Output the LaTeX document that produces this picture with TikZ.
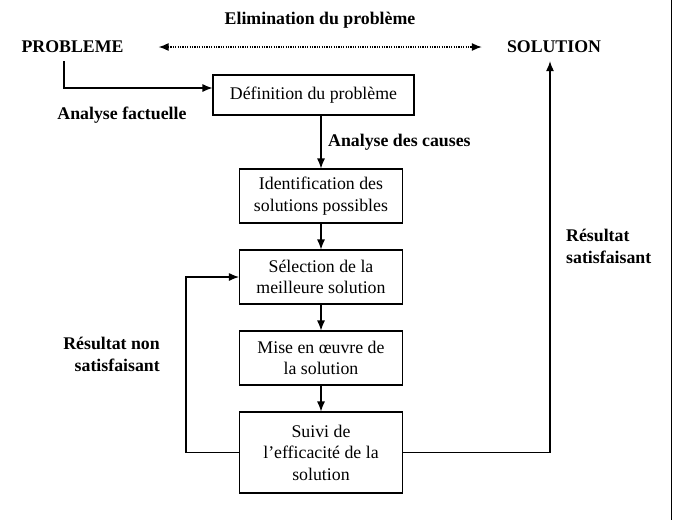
\documentclass[tikz,border=0pt]{standalone}
\usepackage{fontspec}
\setmainfont{Liberation Serif}
\usepackage{tikz}
\usetikzlibrary{arrows.meta,positioning}

\begin{document}
\begin{tikzpicture}[x=1pt,y=-1pt,
        every node/.style={font=\fontsize{17.8}{21.5}\selectfont},
        etape/.style={draw,line width=1.1pt,align=center,minimum width=163pt,minimum height=54pt,inner sep=2pt},
        titre/.style={font=\fontsize{17.8}{21.5}\selectfont\bfseries,inner sep=0pt},
        fleche/.style={line width=1.1pt,-{Latex[length=10pt,width=8pt]}}]
        \useasboundingbox (0,0) rectangle (674,520);
        \node[titre] (elim) at (320,20) {Elimination du problème};
        \node[titre] (prob) at (72.5,47) {PROBLEME};
        \node[titre] (sol) at (554,47) {SOLUTION};
        \node[etape,minimum width=201pt,minimum height=40pt] (def) at (313.5,95) {Définition du problème};
        \node[etape] (ident) at (321,196) {Identification des\\solutions possibles};
        \node[etape] (sel) at (321,277) {Sélection de la\\meilleure solution};
        \node[etape] (mise) at (321,358) {Mise en œuvre de\\la solution};
        \node[etape,minimum height=81pt] (suivi) at (321,452.5) {Suivi de\\l’efficacité de la\\solution};
        \node[titre,anchor=west] (causes) at (328,142) {Analyse des causes};
        \node[titre] (factuel) at (122,115) {Analyse factuelle};
        \node[titre,anchor=east,align=right] (nonsat) at (160,354.5) {Résultat non\\satisfaisant};
        \node[titre,anchor=west,align=left] (sat) at (566,246.5) {Résultat\\satisfaisant};
        \draw[line width=1.2pt,dash pattern=on 1.2pt off 1.2pt,{Latex[length=10pt,width=8pt]}-{Latex[length=10pt,width=8pt]},shorten <=35pt,shorten >=25pt] (prob.east) -- (sol.west);
        \draw[fleche] ([xshift=-8.5pt,yshift=-8pt]prob.south) |- ([yshift=7pt]def.west);
        \draw[fleche] (ident.north |- def.south) -- (ident.north);
        \draw[fleche] (ident) -- (sel);
        \draw[fleche] (sel) -- (mise);
        \draw[fleche] (mise) -- (suivi);
        \draw[fleche] (suivi.west) -- ++(-53,0) |- (sel.west);
        \draw[fleche,shorten >=8pt] (suivi.east) -| ([xshift=-4pt]sol.south);
        \draw[line width=1pt] (671,0) -- (671,520);
\end{tikzpicture}
\end{document}
